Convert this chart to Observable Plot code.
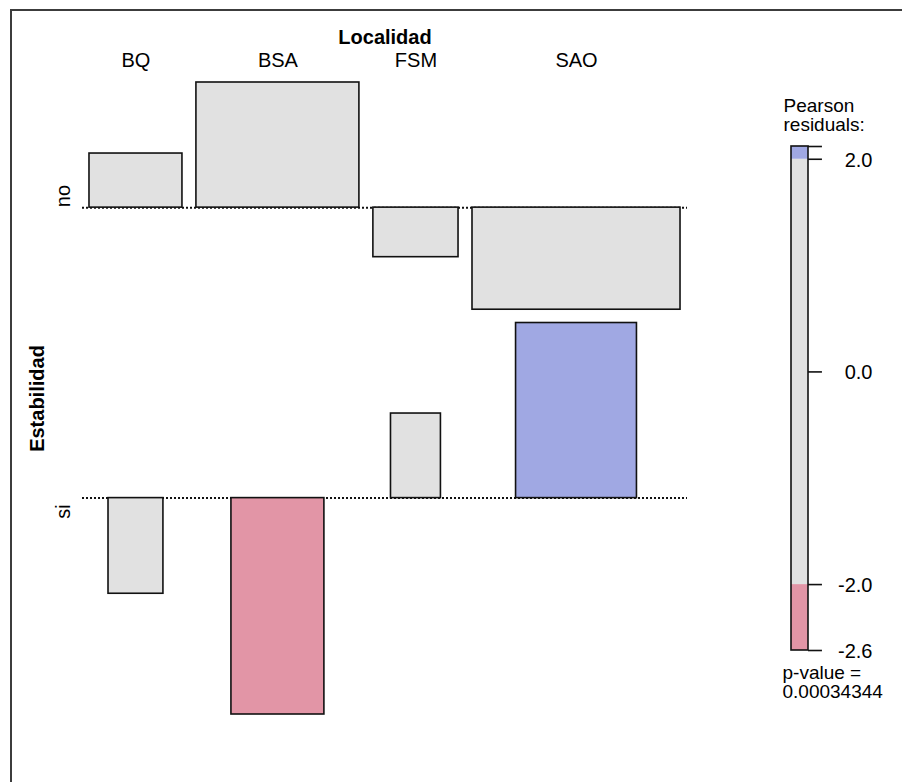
<!DOCTYPE html>
<html>
<head>
<meta charset="utf-8">
<script src="https://cdn.jsdelivr.net/npm/d3@7"></script>
<script src="https://cdn.jsdelivr.net/npm/@observablehq/plot@0.6"></script>
<style>
  html, body { margin: 0; padding: 0; background: #fff; overflow: hidden; }
  #wrap { position: relative; width: 902px; height: 782px; overflow: hidden; background: #fff; font-family: "Liberation Sans", Arial, sans-serif; }
  #frameTop { position: absolute; left: 10px; top: 9px; width: 892px; height: 2px; background: #3c3c3c; }
  #frameLeft { position: absolute; left: 10px; top: 9px; width: 2px; height: 773px; background: #3c3c3c; }
  #main { position: absolute; left: 0; top: 0; }
  #legend { position: absolute; left: 770px; top: 0; }
</style>
</head>
<body>
<div id="wrap">
  <div id="frameTop"></div>
  <div id="frameLeft"></div>
  <div id="main"></div>
  <div id="legend"></div>
</div>
<script>
// ---- data ----
const columns = ["BQ", "BSA", "FSM", "SAO"];          // Localidad
const rowLabels = ["no", "si"];                        // Estabilidad
const residualsNo = [0.655, 1.515, -0.60, -1.236];     // Pearson residuals, row "no"
const residualsSi = [-1.158, -2.62, 1.024, 2.12];      // Pearson residuals, row "si"
const expectedNo = [14.9, 45.8, 12.5, 74.6];           // expected counts, row "no"
const expectedSi = [5.2, 14.9, 4.3, 25.2];             // expected counts, row "si"
const legendTicks = [2, 0, -2];
const pValueText = "0.00034344";
const xTitle = "Localidad";
const yTitle = "Estabilidad";

// ---- styles ----
const FONT = "Liberation Sans, Arial, sans-serif";
const colPos = "#a0a8e3";
const colNeg = "#e295a6";
const colMid = "#e1e1e1";
const shade = r => r > 2 ? colPos : r < -2 ? colNeg : colMid;

// ---- layout derived from data ----
const gapX = 0.58, gapY = 0.161;
const resid = [residualsNo, residualsSi];
const expected = [expectedNo, expectedSi];
const colW = columns.map((c, j) => Math.max(Math.sqrt(expectedNo[j]), Math.sqrt(expectedSi[j])));
let acc = 0;
const centers = colW.map(w => { const c = acc + gapX / 2 + w / 2; acc += w + gapX; return c; });
const total = acc;
const baseNo = 0;
const baseSi = Math.min(0, d3.min(residualsNo)) - gapY - Math.max(0, d3.max(residualsSi));
const bases = [baseNo, baseSi];
const yTop = d3.max(residualsNo);
const yBottom = baseSi + d3.min(residualsSi);

const cells = [];
rowLabels.forEach((rl, i) => columns.forEach((cl, j) => {
  const hw = Math.sqrt(expected[i][j]) / 2;
  const r = resid[i][j];
  cells.push({row: rl, col: cl, x1: centers[j] - hw, x2: centers[j] + hw, y1: bases[i], y2: bases[i] + r, fill: shade(r)});
}));
const rowCenters = [
  (yTop + Math.min(0, d3.min(residualsNo))) / 2,
  baseSi + (d3.max(residualsSi) + d3.min(residualsSi)) / 2
];

const W = 770, H = 782;
const main = Plot.plot({
  width: W, height: H,
  marginLeft: 82, marginRight: 83, marginTop: 82, marginBottom: 68,
  style: {fontFamily: FONT, background: "transparent", overflow: "visible"},
  x: {domain: [0, total], axis: null},
  y: {domain: [yBottom, yTop], axis: null},
  color: {type: "identity"},
  marks: [
    Plot.ruleY(bases, {x1: 0, x2: total, stroke: "#111", strokeWidth: 2, strokeDasharray: "2,2"}),
    Plot.rect(cells, {x1: "x1", x2: "x2", y1: "y1", y2: "y2", fill: "fill", stroke: "#111", strokeWidth: 1.6}),
    Plot.text(columns, {x: (d, j) => centers[j], text: d => d, frameAnchor: "top", lineAnchor: "bottom", dy: -16, fontSize: 20, fill: "#000"}),
    Plot.text([xTitle], {x: total / 2, text: d => d, frameAnchor: "top", lineAnchor: "bottom", dy: -39, fontSize: 20, fontWeight: "bold", fill: "#000"}),
    Plot.text([rowLabels[0]], {y: rowCenters[0], text: d => d, frameAnchor: "left", textAnchor: "middle", rotate: -90, dx: -19, fontSize: 20, fill: "#000"}),
    Plot.text([rowLabels[1]], {y: rowCenters[1], text: d => d, frameAnchor: "left", textAnchor: "start", rotate: -90, dx: -19, fontSize: 20, fill: "#000"}),
    Plot.text([yTitle], {y: (yTop + yBottom) / 2, text: d => d, frameAnchor: "left", textAnchor: "middle", rotate: -90, dx: -45, fontSize: 20, fontWeight: "bold", fill: "#000"})
  ]
});
document.getElementById("main").appendChild(main);

// ---- legend ----
const allRes = residualsNo.concat(residualsSi);
const rMin = d3.min(allRes), rMax = d3.max(allRes);
const segs = [
  {y1: rMin, y2: -2, fill: colNeg},
  {y1: -2, y2: 2, fill: colMid},
  {y1: 2, y2: rMax, fill: colPos}
];
const legend = Plot.plot({
  width: 126, height: H,
  marginLeft: 21, marginRight: 88, marginTop: 146, marginBottom: 132,
  style: {fontFamily: FONT, background: "transparent", overflow: "visible"},
  x: {domain: [0, 1], axis: null},
  y: {domain: [rMin, rMax], axis: null},
  color: {type: "identity"},
  marks: [
    Plot.rect(segs, {x1: 0, x2: 1, y1: "y1", y2: "y2", fill: "fill"}),
    Plot.rect([{y1: rMin, y2: rMax}], {x1: 0, x2: 1, y1: "y1", y2: "y2", fill: "none", stroke: "#111", strokeWidth: 1.6}),
    Plot.ruleY([rMax, ...legendTicks, rMin], {x1: 1, x2: 1.82, stroke: "#111", strokeWidth: 1.6}),
    Plot.text([...legendTicks, rMin], {y: d => d, text: d => d.toFixed(1), frameAnchor: "right", textAnchor: "end", dx: 64, dy: 1, fontSize: 20, fill: "#000"}),
    Plot.text(["Pearson\nresiduals:"], {text: d => d, frameAnchor: "top-left", textAnchor: "start", lineAnchor: "bottom", dx: -8, dy: -16, lineHeight: 1.0, fontSize: 19, fill: "#000"}),
    Plot.text(["p-value =\n" + pValueText], {text: d => d, frameAnchor: "bottom-left", textAnchor: "start", lineAnchor: "top", dx: -9, dy: 15, lineHeight: 1.0, fontSize: 19, fill: "#000"})
  ]
});
document.getElementById("legend").appendChild(legend);
</script>
</body>
</html>
